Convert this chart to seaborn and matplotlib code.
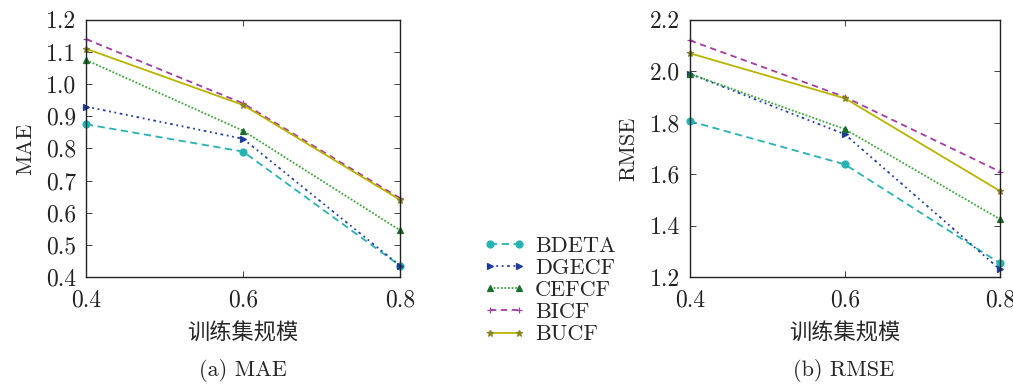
import matplotlib
matplotlib.use("Agg")
import matplotlib.pyplot as plt
import numpy as np
import pandas as pd
import seaborn as sns

# training set size
sizes = [0.4, 0.6, 0.8]
methods = ["BDETA", "DGECF", "CEFCF", "BICF", "BUCF"]

mae_bdeta = [0.875, 0.790, 0.435]
mae_dgecf = [0.930, 0.830, 0.435]
mae_cefcf = [1.075, 0.855, 0.545]
mae_bicf = [1.140, 0.940, 0.645]
mae_bucf = [1.110, 0.935, 0.640]

rmse_bdeta = [1.806, 1.638, 1.254]
rmse_dgecf = [1.990, 1.755, 1.230]
rmse_cefcf = [1.990, 1.775, 1.425]
rmse_bicf = [2.120, 1.900, 1.610]
rmse_bucf = [2.070, 1.895, 1.535]

mae_ticks = [0.4, 0.5, 0.6, 0.7, 0.8, 0.9, 1.0, 1.1, 1.2]
rmse_ticks = [1.2, 1.4, 1.6, 1.8, 2.0, 2.2]

mae = dict(zip(methods, [mae_bdeta, mae_dgecf, mae_cefcf, mae_bicf, mae_bucf]))
rmse = dict(zip(methods, [rmse_bdeta, rmse_dgecf, rmse_cefcf, rmse_bicf, rmse_bucf]))

rows = []
for m in methods:
    for i, s in enumerate(sizes):
        rows.append([m, s, mae[m][i], rmse[m][i]])
df = pd.DataFrame(rows, columns=["method", "size", "MAE", "RMSE"])

sns.set_theme(style="ticks")
plt.rcParams["font.family"] = ["cmr10", "Noto Sans CJK SC"]
plt.rcParams["axes.formatter.use_mathtext"] = True
plt.rcParams["mathtext.fontset"] = "cm"

palette = {"BDETA": "#26b3b3", "DGECF": "#2440a8", "CEFCF": "#3aa83a",
           "BICF": "#a43ca4", "BUCF": "#b9b400"}
markers = {"BDETA": "o", "DGECF": ">", "CEFCF": "^", "BICF": "+", "BUCF": "*"}
dashes = {"BDETA": (4, 2.5), "DGECF": (1.5, 2, 1, 2, 1, 2), "CEFCF": (1, 1),
          "BICF": (3.5, 2.5), "BUCF": None}
mcolors = {"BDETA": "#26b3b3", "DGECF": "#1f3a9e", "CEFCF": "#1a6e2e",
           "BICF": "#a43ca4", "BUCF": "#8a8420"}

fig = plt.figure(figsize=(10.13, 3.85), dpi=100)
ax1 = fig.add_axes([0.085, 0.2805, 0.310, 0.668])
ax2 = fig.add_axes([0.681, 0.2805, 0.306, 0.668])

for ax, col, ticks in [(ax1, "MAE", mae_ticks), (ax2, "RMSE", rmse_ticks)]:
    for m in methods:
        sub = df[df["method"] == m]
        sns.lineplot(data=sub, x="size", y=col, color=palette[m], label=m,
                     marker=markers[m], markersize=5, linewidth=1.3,
                     markerfacecolor=mcolors[m], markeredgecolor=mcolors[m],
                     markeredgewidth=0.9, ax=ax)
        line = ax.lines[-1]
        if dashes[m] is not None:
            line.set_dashes(dashes[m])
        line.set_clip_on(False)
    ax.set_xlim(0.4, 0.8)
    ax.set_ylim(ticks[0], ticks[-1])
    ax.set_xticks(sizes)
    ax.set_xticklabels(["0.4", "0.6", "0.8"])
    ax.set_yticks(ticks)
    ax.set_yticklabels([f"{t:.1f}" for t in ticks])
    ax.tick_params(direction="in", top=True, right=True, length=4, width=0.6,
                   labelsize=17, colors="#222222")
    ax.tick_params(axis="x", pad=9)
    ax.tick_params(axis="y", pad=7)
    ax.set_xlabel("训练集规模", fontsize=16, labelpad=8)
    ax.set_ylabel(col, fontsize=16, labelpad=8)
    for sp in ax.spines.values():
        sp.set_linewidth(1.0)
        sp.set_color("#222222")

handles, labels = ax1.get_legend_handles_labels()
ax1.get_legend().remove()
ax2.get_legend().remove()
fig.legend(handles, labels, loc="upper left", bbox_to_anchor=(0.468, 0.41),
           frameon=False, fontsize=16, handlelength=1.9, handletextpad=0.45,
           labelspacing=0.12, borderaxespad=0, numpoints=2)

fig.text(0.24, 0.024, "(a) MAE", ha="center", fontsize=16)
fig.text(0.833, 0.024, "(b) RMSE", ha="center", fontsize=16)

fig.savefig("out.png", dpi=100)
